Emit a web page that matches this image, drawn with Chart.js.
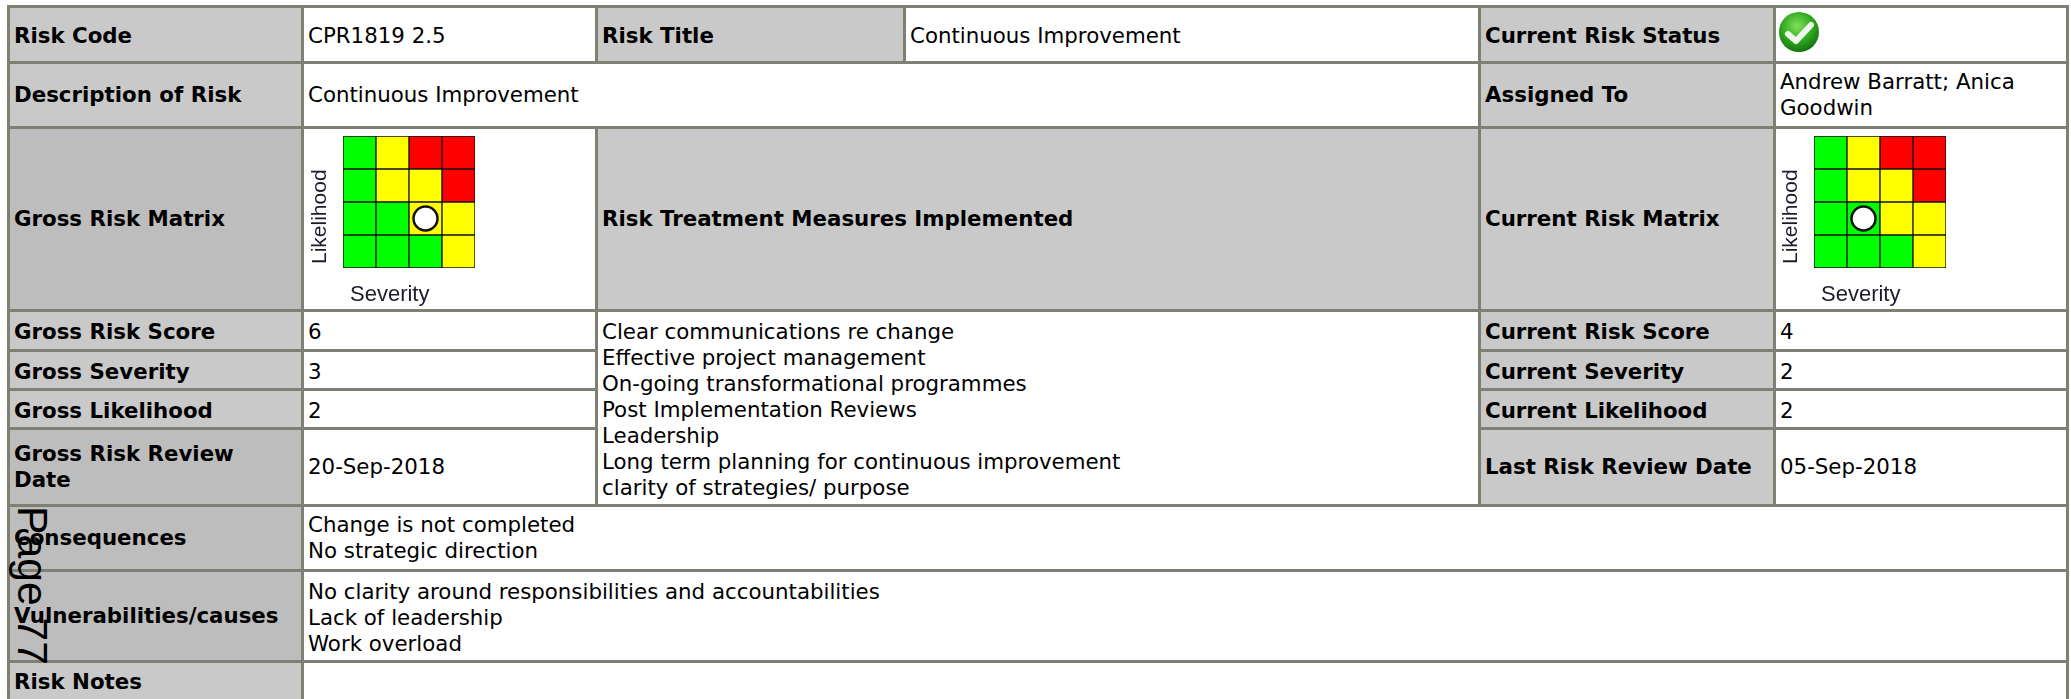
<!DOCTYPE html>
<html>
<head>
<meta charset="utf-8">
<script src="https://cdn.jsdelivr.net/npm/chart.js@4"></script>
<style>
    html, body { margin: 0; padding: 0; width: 2071px; height: 699px; overflow: hidden; background: #fff; }
    table { position: absolute; left: 7px; top: 5px; border-collapse: collapse; table-layout: fixed; width: 2059px;
        font: 21.33px/25.8px "DejaVu Sans", Verdana, sans-serif; color: #000; }
    td { border: 3px solid #7f8074; padding: 0 4px; vertical-align: middle; white-space: nowrap; overflow: visible; }
    td.h { background: #c9c9c9; font-weight: bold; }
    td.d { background: #bdbdbd; font-weight: bold; }
    tr.low1 td { padding-top: 2px; }
    tr.low2 td { padding-top: 3px; }
    td.measures { padding-top: 3px; line-height: 26px; }
    td.causes { padding-top: 4px; }
    canvas { position: absolute; }
    #page { position: absolute; left: 11px; top: 506px; font: 42.67px/42.67px "Liberation Sans", Arial, sans-serif;
        writing-mode: vertical-rl; white-space: pre; }
    #status { position: absolute; left: 1778px; top: 11px; }
</style>
</head>
<body>
<table>
    <colgroup><col style="width:294px"><col style="width:294px"><col style="width:308px"><col style="width:575px"><col style="width:295px"><col style="width:293px"></colgroup>
    <tr class="low1" style="height:56px"><td class="h">Risk Code</td><td>CPR1819 2.5</td><td class="h">Risk Title</td><td>Continuous Improvement</td><td class="h">Current Risk Status</td><td></td></tr>
    <tr style="height:65px"><td class="h">Description of Risk</td><td colspan="3">Continuous Improvement</td><td class="h">Assigned To</td><td>Andrew Barratt; Anica<br>Goodwin</td></tr>
    <tr style="height:183px"><td class="d">Gross Risk Matrix</td><td></td><td class="h" colspan="2">Risk Treatment Measures Implemented</td><td class="h">Current Risk Matrix</td><td></td></tr>
    <tr class="low2" style="height:40px"><td class="h">Gross Risk Score</td><td>6</td><td class="measures" rowspan="4" colspan="2">Clear communications re change<br>Effective project management<br>On-going transformational programmes<br>Post Implementation Reviews<br>Leadership<br>Long term planning for continuous improvement<br>clarity of strategies/ purpose</td><td class="h">Current Risk Score</td><td>4</td></tr>
    <tr class="low2" style="height:39px"><td class="h">Gross Severity</td><td>3</td><td class="h">Current Severity</td><td>2</td></tr>
    <tr class="low2" style="height:39px"><td class="h">Gross Likelihood</td><td>2</td><td class="h">Current Likelihood</td><td>2</td></tr>
    <tr style="height:77px"><td class="d">Gross Risk Review<br>Date</td><td>20-Sep-2018</td><td class="h">Last Risk Review Date</td><td>05-Sep-2018</td></tr>
    <tr style="height:65px"><td class="d">Consequences</td><td colspan="5">Change is not completed<br>No strategic direction</td></tr>
    <tr style="height:91px"><td class="d">Vulnerabilities/causes</td><td class="causes" colspan="5">No clarity around responsibilities and accountabilities<br>Lack of leadership<br>Work overload</td></tr>
    <tr style="height:40px"><td class="h">Risk Notes</td><td colspan="5"></td></tr>
</table>

<svg id="status" width="42" height="42" viewBox="0 0 42 42">
    <defs><radialGradient id="g" cx="45%" cy="35%" r="70%"><stop offset="0" stop-color="#7fe05a"/><stop offset="0.55" stop-color="#2fa81e"/><stop offset="1" stop-color="#0d6b0d"/></radialGradient></defs>
    <circle cx="21" cy="21" r="20" fill="url(#g)"/>
    <path d="M10 23 L18 30 L33 14" fill="none" stroke="#eef8ea" stroke-width="6" stroke-linecap="round" stroke-linejoin="round"/>
</svg>

<canvas id="grossMatrix" width="290" height="181" style="left:304px;top:129px"></canvas>
<canvas id="currentMatrix" width="290" height="181" style="left:1776px;top:129px"></canvas>
<div id="page">Page 77</div>

<script>
const severityLevels = ['1', '2', '3', '4'];
// colour of each cell, likelihood row 1 at the bottom up to row 4
const likelihoodRow1 = ['#00ff00', '#00ff00', '#00ff00', '#ffff00'];
const likelihoodRow2 = ['#00ff00', '#00ff00', '#ffff00', '#ffff00'];
const likelihoodRow3 = ['#00ff00', '#ffff00', '#ffff00', '#ff0000'];
const likelihoodRow4 = ['#00ff00', '#ffff00', '#ff0000', '#ff0000'];
const cellHeights = [1, 1, 1, 1];
const grossSeverity = '3';
const grossLikelihood = 2;
const currentSeverity = '2';
const currentLikelihood = 2;

// axis names sit off-centre in the original image, so they are placed by hand
const matrixLabels = {
    id: 'matrixLabels',
    afterDraw(chart) {
        const { ctx, chartArea } = chart;
        ctx.save();
        ctx.fillStyle = '#1c1c2c';
        ctx.font = '22px "Liberation Sans", Arial, sans-serif';
        ctx.textAlign = 'left';
        ctx.textBaseline = 'alphabetic';
        ctx.fillText('Severity', chartArea.left + 7, chartArea.bottom + 33);
        ctx.translate(chartArea.left - 17, chartArea.bottom - 4);
        ctx.rotate(-Math.PI / 2);
        ctx.font = '21px "Liberation Sans", Arial, sans-serif';
        ctx.fillText('Likelihood', 0, 0);
        ctx.restore();
    }
};

function drawMatrix(id, left, severity, likelihood) {
    const rows = [likelihoodRow1, likelihoodRow2, likelihoodRow3, likelihoodRow4];
    const datasets = rows.map(colours => ({
        type: 'bar',
        data: cellHeights,
        backgroundColor: colours,
        borderColor: '#111',
        borderWidth: 1,
        borderSkipped: false,
        barPercentage: 1,
        categoryPercentage: 1,
        order: 1
    }));
    datasets.push({
        type: 'scatter',
        data: [{ x: severity, y: likelihood - 0.5 }],
        backgroundColor: '#fff',
        borderColor: '#111',
        pointRadius: 12,
        pointBorderWidth: 2.5,
        order: 0
    });
    new Chart(document.getElementById(id), {
        data: { labels: severityLevels, datasets: datasets },
        plugins: [matrixLabels],
        options: {
            responsive: false,
            animation: false,
            layout: { autoPadding: false, padding: { left: left, top: 7, right: 290 - left - 132, bottom: 42 } },
            plugins: { legend: { display: false }, tooltip: { enabled: false } },
            scales: {
                x: { stacked: true, display: false },
                y: { stacked: true, display: false, min: 0, max: 4 }
            }
        }
    });
}

drawMatrix('grossMatrix', 39, grossSeverity, grossLikelihood);
drawMatrix('currentMatrix', 38, currentSeverity, currentLikelihood);
</script>
</body>
</html>
